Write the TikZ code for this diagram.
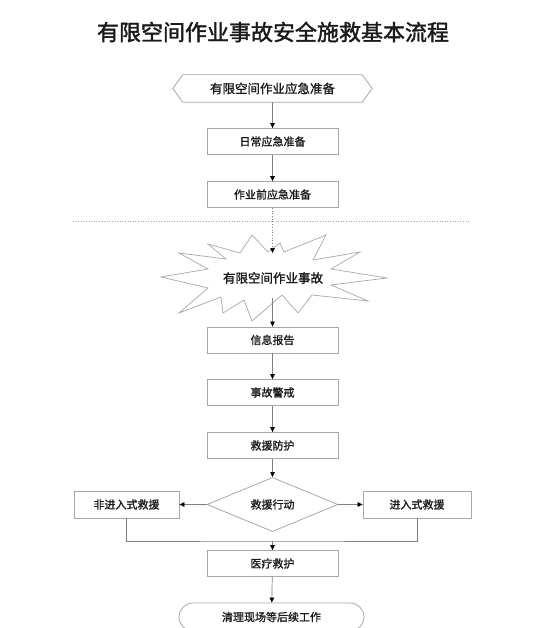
\documentclass[tikz,border=0pt]{standalone}
\usepackage{fontspec}
\setmainfont{Noto Sans CJK SC}
\newfontfamily\bodyfont[FakeBold=1.2]{Noto Sans CJK SC}
\newfontfamily\titlefont[FakeBold=1.6]{Noto Sans CJK SC}
\usetikzlibrary{arrows.meta,shapes.geometric,shapes.misc,calc}
\definecolor{boxline}{HTML}{A8A8A8}
\definecolor{conn}{HTML}{808080}
\definecolor{txt}{HTML}{1A1A1A}
\begin{document}
\begin{tikzpicture}[x=1pt,y=-1pt,
  every node/.style={text=txt},
  stepbox/.style={draw=boxline,line width=0.8pt,minimum width=131pt,minimum height=26pt,inner sep=0pt,font=\bodyfont\fontsize{11}{13}\selectfont},
  sidebox/.style={draw=boxline,line width=0.8pt,minimum height=27pt,inner sep=0pt,font=\bodyfont\fontsize{11}{13}\selectfont},
  arr/.style={draw=conn,line width=0.7pt,-{Triangle[length=5pt,width=4.5pt,fill=black,color=black]}},
  plainline/.style={draw=conn,line width=0.7pt}]
\useasboundingbox (0,0) rectangle (554,628);
\fill[white] (0,0) rectangle (554,628);

% title
\node[font=\titlefont\fontsize{22}{26}\selectfont] (title) at (273,32) {有限空间作业事故安全施救基本流程};

% hexagon
\node[minimum width=199pt,minimum height=27pt,inner sep=0pt,font=\bodyfont\fontsize{12.5}{14}\selectfont] (hex) at (272.5,88.5) {有限空间作业应急准备};
\draw[boxline,line width=0.8pt] (hex.west) -- ($(hex.north west)+(10,0)$) -- ($(hex.north east)+(-10,0)$) -- (hex.east) -- ($(hex.south east)+(-10,0)$) -- ($(hex.south west)+(10,0)$) -- cycle;

\node[stepbox] (daily) at (272.5,141.5) {日常应急准备};
\node[stepbox] (pre) at (272.5,194.5) {作业前应急准备};

% dotted separator
\coordinate (sepL) at (73,221);
\coordinate (sepR) at (470,221);
\draw[boxline,line width=0.6pt,dotted] (sepL) -- (sepR);

% burst
\draw[boxline,line width=0.7pt,fill=white]
 (252,235) -- (268,252) -- (280,243) -- (284,252) -- (326,235) -- (313,260)
 -- (360,252) -- (331,269) -- (387,278) -- (331,285) -- (368,301) -- (312,295)
 -- (298,313) -- (282,295) -- (252,321) -- (244,300) -- (223,313) -- (221,297)
 -- (179,313) -- (208,288) -- (161,277) -- (208,269) -- (179,253) -- (226,259)
 -- (208,244) -- (240,253) -- cycle;
\node[font=\bodyfont\fontsize{12.5}{14}\selectfont] (burst) at (273,278) {有限空间作业事故};
\coordinate (bursttop) at (272.5,253);
\coordinate (burstbot) at (272.5,298);

\node[stepbox] (report) at (272.5,340) {信息报告};
\node[stepbox] (alert) at (272.5,392.5) {事故警戒};
\node[stepbox] (protect) at (272.5,445.5) {救援防护};

\node[diamond,draw=boxline,line width=0.8pt,minimum width=131pt,minimum height=39pt,inner sep=0pt,font=\bodyfont\fontsize{11}{13}\selectfont] (action) at (272.5,504.5) {救援行动};
\node[sidebox,minimum width=105pt] (nonentry) at (126.5,504.5) {非进入式救援};
\node[sidebox,minimum width=108pt] (entry) at (417,504.5) {进入式救援};
\coordinate (merge) at (272.5,541);

\node[stepbox] (medical) at (272.5,563.5) {医疗救护};
\node[rounded rectangle,draw=boxline,line width=0.8pt,minimum width=185pt,minimum height=28pt,inner sep=0pt,font=\bodyfont\fontsize{11}{13}\selectfont] (clean) at (271.5,617) {清理现场等后续工作};

% connectors
\draw[arr] (hex) -- (daily);
\draw[arr] (daily) -- (pre);
\draw[arr,dotted,line width=0.6pt] (pre) -- (bursttop);
\draw[arr] (burstbot) -- (report);
\draw[arr] (report) -- (alert);
\draw[arr] (alert) -- (protect);
\draw[arr] (protect) -- (action);
\draw[arr] (action) -- (nonentry);
\draw[arr] (action) -- (entry);
\draw[plainline] (nonentry.south) |- (merge) -| (entry.south);
\draw[arr] (merge) -- (medical);
\draw[arr] (medical) -- (clean);
\end{tikzpicture}
\end{document}
